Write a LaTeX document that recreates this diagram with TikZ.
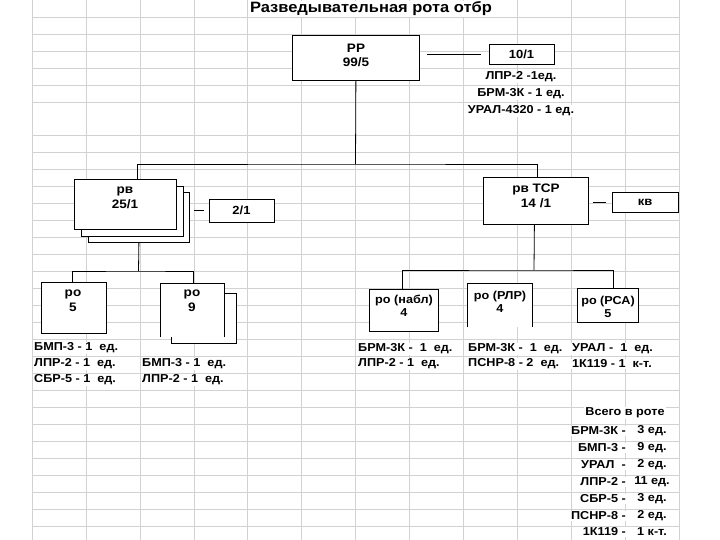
\documentclass[tikz,border=0pt]{standalone}
\usepackage{fontspec}
\setmainfont{Liberation Sans}[FakeStretch=1.1]
\tikzset{
  gridline/.style={draw=gray!35, line width=0.5pt},
  box/.style={draw, fill=white, line width=0.8pt, inner sep=0pt, anchor=north west},
  openbox/.style={fill=white, inner sep=0pt, anchor=north west},
  lbl/.style={font=\fontsize{12.3}{14}\selectfont\bfseries, align=center, inner sep=0pt},
  txt/.style={font=\fontsize{11.5}{13}\selectfont\bfseries, fill=white, inner sep=1pt},
  conn/.style={draw, line width=0.8pt},
}
\begin{document}
\begin{tikzpicture}[x=1pt, y=-1pt]
\useasboundingbox (0,0) rectangle (720,540);
% spreadsheet grid
\foreach \i in {0,...,12} \draw[gridline] ({32+53.917*\i},0) -- ({32+53.917*\i},540);
\foreach \yy in {17,34,51,68,85,102,135,152,169,186,203,220,237,254,271,288,305,322,339,356,373,390,407,424,441,458,475,492,509,526}
  \draw[gridline] (32,\yy) -- (679,\yy);
% title
\node[font=\fontsize{15}{17}\selectfont\bfseries, fill=white, inner sep=1pt] (title) at (371,9) {Разведывательная рота отбр};
% top box
\node[box, minimum width=127pt, minimum height=45pt] (rr) at (292,35) {};
\node[lbl, font=\fontsize{12.3}{13.5}\selectfont\bfseries] (rrl) at (356,55.5) {РР\\99/5};
\node[box, anchor=center, minimum width=65pt, minimum height=20pt, font=\fontsize{11.8}{13}\selectfont\bfseries] (t10) at (521.5,54) {10/1};
\node[txt] (e1) at (521,77) {ЛПР-2 -1ед.};
\node[txt] (e2) at (521,94) {БРМ-3К - 1 ед.};
\node[txt] (e3) at (521,111) {УРАЛ-4320 - 1 ед.};
% рв stack
\node[box, minimum width=101pt, minimum height=50pt] (rv3) at (88,192) {};
\node[box, minimum width=102pt, minimum height=50pt] (rv2) at (81,186) {};
\node[box, minimum width=102pt, minimum height=50pt] (rv) at (74,179) {};
\node[lbl, font=\fontsize{12.3}{15}\selectfont\bfseries] (rvl) at (125,197.5) {рв\\25/1};
\node[box, anchor=center, minimum width=65pt, minimum height=23pt, font=\fontsize{11.8}{13}\selectfont\bfseries] (t21) at (241.5,210.5) {2/1};
% рв ТСР
\node[box, minimum width=105pt, minimum height=47pt] (tsr) at (483,177) {};
\node[lbl, font=\fontsize{12.3}{15}\selectfont\bfseries] (tsrl) at (536,195.5) {рв ТСР\\14 /1};
\node[box, anchor=center, minimum width=66pt, minimum height=20pt, font=\fontsize{11.8}{13}\selectfont\bfseries] (kv) at (645,202) {кв};
% ро 5, ро 9
\node[box, minimum width=65pt, minimum height=51pt] (ro5) at (41,282) {};
\node[lbl, font=\fontsize{12.3}{15}\selectfont\bfseries] (ro5l) at (73,300.5) {ро\\5};
\node[box, minimum width=65pt, minimum height=50pt] (ro9b) at (171,293) {};
\node[openbox, minimum width=64pt, minimum height=54pt] (ro9) at (160,283) {};
\draw[conn] (ro9.south west) -- (ro9.north west) -- (ro9.north east) -- (ro9.south east);
\node[lbl, font=\fontsize{12.3}{15}\selectfont\bfseries] (ro9l) at (192,300.5) {ро\\9};
% right group
\node[box, minimum width=69pt, minimum height=42pt] (nabl) at (369,289) {};
\node[lbl, font=\fontsize{11.5}{13}\selectfont\bfseries] (nabll) at (404,305.5) {ро (набл)\\4};
\node[openbox, minimum width=65pt, minimum height=44pt] (rlr) at (467,283) {};
\draw[conn] (rlr.south west) -- (rlr.north west) -- (rlr.north east) -- (rlr.south east);
\node[lbl, font=\fontsize{11.5}{13}\selectfont\bfseries] (rlrl) at (500,301.5) {ро (РЛР)\\4};
\node[box, minimum width=61pt, minimum height=34pt] (rsa) at (577,288) {};
\node[lbl, font=\fontsize{11.5}{13}\selectfont\bfseries] (rsal) at (608,306.5) {ро (РСА)\\5};
% connectors
\coordinate (bar1) at (355.5,164);
\coordinate (bar2) at (138.5,271);
\coordinate (bar3) at (534,270);
\draw[conn] (rr.south) -- (bar1);
\draw[conn] ([xshift=12pt]rv.north) |- (bar1) -| ([xshift=1.5pt]tsr.north);
\draw[conn] ([xshift=7pt]rr.east |- t10.west) -- ([xshift=-8pt]t10.west);
\draw[conn] ([xshift=4pt]rv3.east |- t21.west) -- ([xshift=-5pt]t21.west);
\draw[conn] ([xshift=4pt]tsr.east |- kv.west) -- ([xshift=-6pt]kv.west);
\draw[conn] (rv3.south) -- (bar2);
\draw[conn] ([xshift=-1.5pt]ro5.north) |- (bar2) -| ([xshift=1pt]ro9.north);
\draw[conn] ([xshift=-1.5pt]tsr.south) -- (bar3);
\draw[conn] ([xshift=-1.5pt]nabl.north) |- (bar3) -| ([xshift=5.5pt]rsa.north);
% equipment texts
\node[txt, anchor=west] (a1) at (33,348) {БМП-3 - 1\ \ ед.};
\node[txt, anchor=west] (a2) at (33,364) {ЛПР-2 - 1\ \ ед.};
\node[txt, anchor=west] (a3) at (33,380) {СБР-5 - 1\ \ ед.};
\node[txt, anchor=west] (b1) at (141,364) {БМП-3 - 1\ \ ед.};
\node[txt, anchor=west] (b2) at (141,380) {ЛПР-2 - 1\ \ ед.};
\node[txt, anchor=west] (c1) at (357,349) {БРМ-3К -\ \ 1\ \ ед.};
\node[txt, anchor=west] (c2) at (357,364) {ЛПР-2 - 1\ \ ед.};
\node[txt, anchor=west] (d1) at (467,349) {БРМ-3К -\ \ 1\ \ ед.};
\node[txt, anchor=west] (d2) at (467,364) {ПСНР-8 - 2\ \ ед.};
\node[txt, anchor=west] (f1) at (571,349) {УРАЛ -\ \ 1\ \ ед.};
\node[txt, anchor=west] (f2) at (571,364) {1К119 - 1\ \ к-т.};
% totals
\node[txt] (tot) at (625,413) {Всего в роте};
\node[txt, anchor=east] (n1) at (627,431) {БРМ-3К -};
\node[txt] (v1) at (652,431) {3 ед.};
\node[txt, anchor=east] (n2) at (627,448) {БМП-3 -};
\node[txt] (v2) at (652,448) {9 ед.};
\node[txt, anchor=east] (n3) at (627,465) {УРАЛ\ \ -};
\node[txt] (v3) at (652,465) {2 ед.};
\node[txt, anchor=east] (n4) at (627,482) {ЛПР-2 -};
\node[txt] (v4) at (652,482) {11 ед.};
\node[txt, anchor=east] (n5) at (627,499) {СБР-5 -};
\node[txt] (v5) at (652,499) {3 ед.};
\node[txt, anchor=east] (n6) at (627,516) {ПСНР-8 -};
\node[txt] (v6) at (652,516) {2 ед.};
\node[txt, anchor=east] (n7) at (627,532) {1К119 -};
\node[txt] (v7) at (652,532) {1 к-т.};
\end{tikzpicture}
\end{document}
